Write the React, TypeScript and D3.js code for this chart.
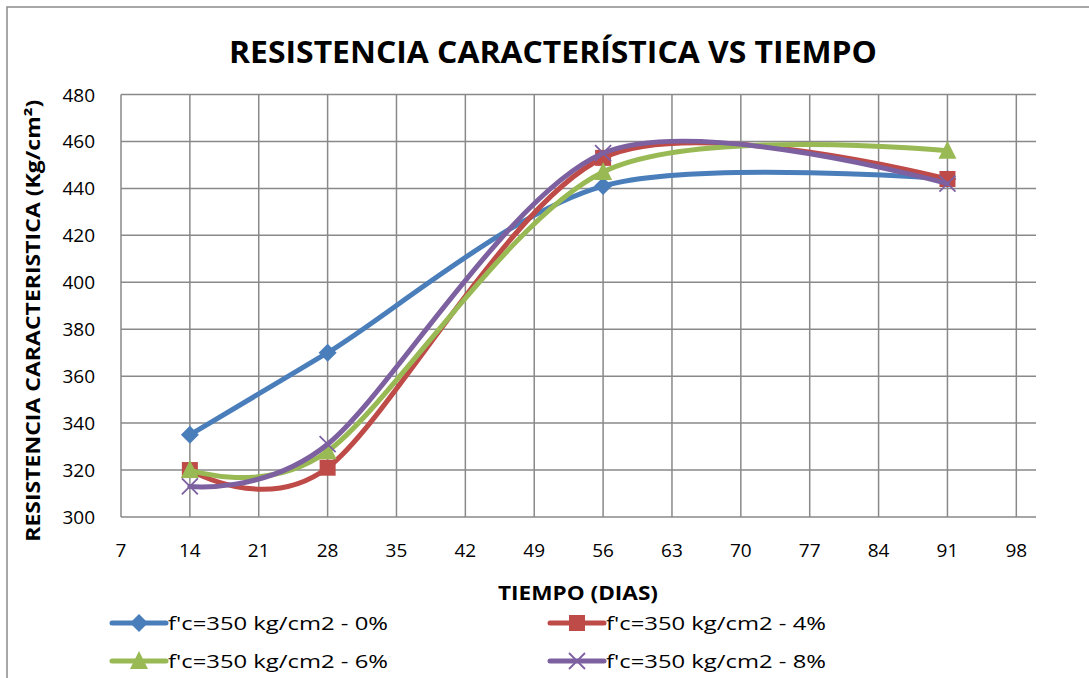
import React from "react";
import * as d3 from "d3";

const days = [14, 28, 56, 91];
const s0 = [335, 370, 441, 444];
const s4 = [320, 321, 453, 444];
const s6 = [320, 328, 447, 456];
const s8 = [313, 331, 455, 442];
const seriesNames = [
  "f'c=350 kg/cm2 - 0%",
  "f'c=350 kg/cm2 - 4%",
  "f'c=350 kg/cm2 - 6%",
  "f'c=350 kg/cm2 - 8%",
];
const colors = ["#4A7EBB", "#BE4B48", "#98B954", "#7D60A0"];
const markers = ["diamond", "square", "triangle", "x"];
const xTicks = [7, 14, 21, 28, 35, 42, 49, 56, 63, 70, 77, 84, 91, 98];
const yTicks = [300, 320, 340, 360, 380, 400, 420, 440, 460, 480];

const W = 1089, H = 678;
const plot = { left: 121, right: 1036, top: 94.5, bottom: 517 };
const FONT = "'Open Sans', 'Noto Sans', sans-serif";

function Marker({ type, x, y, color }: { type: string; x: number; y: number; color: string }) {
  if (type === "diamond") {
    const r = 9;
    return <path d={`M${x},${y - r}L${x + r},${y}L${x},${y + r}L${x - r},${y}Z`} fill={color} />;
  }
  if (type === "square") {
    const r = 8;
    return <rect x={x - r} y={y - r} width={2 * r} height={2 * r} fill={color} />;
  }
  if (type === "triangle") {
    const r = 9;
    return <path d={`M${x},${y - r - 1}L${x + r},${y + r - 1}L${x - r},${y + r - 1}Z`} fill={color} />;
  }
  const r = 8;
  return (
    <path
      d={`M${x - r},${y - r}L${x + r},${y + r}M${x - r},${y + r}L${x + r},${y - r}`}
      stroke={color}
      strokeWidth={1.8}
      fill="none"
    />
  );
}

export default function App() {
  const x = d3.scaleLinear().domain([7, 100]).range([plot.left, plot.right]);
  const y = d3.scaleLinear().domain([300, 480]).range([plot.bottom, plot.top]);
  const series = [s0, s4, s6, s8];
  const line = d3
    .line<[number, number]>()
    .x((d) => x(d[0]))
    .y((d) => y(d[1]))
    .curve(d3.curveCardinal.tension(0.1));

  const grid = "#898989";
  const legendPos = [
    { lx: 112, ly: 623 },
    { lx: 550, ly: 623 },
    { lx: 112, ly: 661 },
    { lx: 550, ly: 661 },
  ];

  return (
    <svg
      width={W}
      height={H}
      style={{ position: "absolute", left: 0, top: 0, background: "#fff" }}
      fontFamily={FONT}
    >
      <rect x={0} y={0} width={W} height={H} fill="#fff" />
      <path d={`M7,${H + 5}V7H${W + 5}`} stroke="#8a8a8a" strokeWidth={1.5} fill="none" />

      <text
        x={553}
        y={63}
        textAnchor="middle"
        fontWeight="bold"
        fontSize={30}
        textLength={648}
        lengthAdjust="spacingAndGlyphs"
        fill="#000"
      >
        RESISTENCIA CARACTERÍSTICA VS TIEMPO
      </text>

      {/* grid */}
      {yTicks.map((t) => (
        <line key={"gy" + t} x1={plot.left} x2={plot.right} y1={y(t)} y2={y(t)} stroke={grid} strokeWidth={1.5} />
      ))}
      {xTicks.map((t) => (
        <line key={"gx" + t} x1={x(t)} x2={x(t)} y1={plot.top} y2={plot.bottom} stroke={grid} strokeWidth={1.5} />
      ))}

      {/* tick labels */}
      {yTicks.map((t) => (
        <text key={"ly" + t} x={95} y={y(t) + 7} textAnchor="end" fontSize={19} fill="#000">
          {t}
        </text>
      ))}
      {xTicks.map((t) => (
        <text key={"lx" + t} x={x(t)} y={557} textAnchor="middle" fontSize={19} fill="#000">
          {t}
        </text>
      ))}

      {/* axis titles */}
      <text
        transform={`translate(40,${(plot.top + plot.bottom) / 2 + 15}) rotate(-90)`}
        textAnchor="middle"
        fontWeight="bold"
        fontSize={19}
        textLength={442}
        lengthAdjust="spacingAndGlyphs"
        fill="#000"
      >
        RESISTENCIA CARACTERISTICA (Kg/cm²)
      </text>
      <text
        x={578}
        y={600}
        textAnchor="middle"
        fontWeight="bold"
        fontSize={19}
        textLength={160}
        lengthAdjust="spacingAndGlyphs"
        fill="#000"
      >
        TIEMPO (DIAS)
      </text>

      {/* series */}
      {series.map((vals, i) => {
        const pts = days.map((d, j) => [d, vals[j]] as [number, number]);
        return (
          <g key={"s" + i}>
            <path d={line(pts) || ""} fill="none" stroke={colors[i]} strokeWidth={5} strokeLinecap="round" />
            {pts.map((p, j) => (
              <Marker key={j} type={markers[i]} x={x(p[0])} y={y(p[1])} color={colors[i]} />
            ))}
          </g>
        );
      })}

      {/* legend */}
      {seriesNames.map((name, i) => {
        const { lx, ly } = legendPos[i];
        return (
          <g key={"lg" + i}>
            <line x1={lx} x2={lx + 54} y1={ly} y2={ly} stroke={colors[i]} strokeWidth={5} strokeLinecap="round" />
            <Marker type={markers[i]} x={lx + 27} y={ly} color={colors[i]} />
            <text
              x={lx + 56}
              y={ly + 7}
              fontSize={19}
              textLength={220}
              lengthAdjust="spacingAndGlyphs"
              fill="#000"
            >
              {name}
            </text>
          </g>
        );
      })}
    </svg>
  );
}
